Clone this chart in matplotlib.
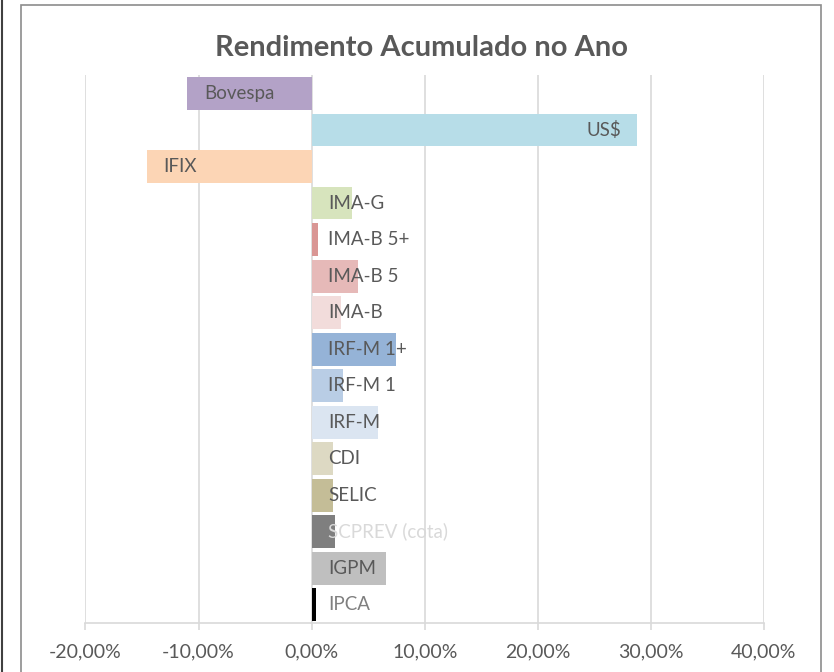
import matplotlib
matplotlib.use("Agg")
from matplotlib import pyplot as plt
from matplotlib.patches import Rectangle
from matplotlib.lines import Line2D
from matplotlib.ticker import FuncFormatter

categories = ["Bovespa", "US$", "IFIX", "IMA-G", "IMA-B 5+", "IMA-B 5", "IMA-B",
              "IRF-M 1+", "IRF-M 1", "IRF-M", "CDI", "SELIC", "SCPREV (cota)",
              "IGPM", "IPCA"]
values = [-11.0, 28.8, -14.6, 3.55, 0.55, 4.1, 2.6, 7.45, 2.75, 5.85, 1.9, 1.9,
          2.1, 6.6, 0.4]
colors = ["#b3a2c7", "#b7dde8", "#fcd5b5", "#d7e4bd", "#d99694", "#e6b9b8",
          "#f2dcdb", "#95b3d7", "#b9cde5", "#dbe5f1", "#ddd9c3", "#c4bd97",
          "#7f7f7f", "#bfbfbf", "#000000"]
label_colors = ["#595959"] * 12 + ["#d9d9d9", "#595959", "#7f7f7f"]
xticks = [-20, -10, 0, 10, 20, 30, 40]

plt.rcParams["font.family"] = ["Lato", "DejaVu Sans"]

fig = plt.figure(figsize=(8.34, 6.72), dpi=100)
ax = fig.add_axes([0.1025, 0.073, 0.8135, 0.815])

y = list(range(len(categories)))
ax.barh(y, values, height=0.9, color=colors, zorder=2)

off = 1.46
fs = 13.5
for yi, v, name, lc in zip(y, values, categories, label_colors):
    if v < 0:
        ax.text(v + off, yi, name, ha="left", va="center", fontsize=fs, color=lc, zorder=3)
    elif v > 15:
        ax.text(v - off, yi, name, ha="right", va="center", fontsize=fs, color=lc, zorder=3)
    else:
        ax.text(off, yi, name, ha="left", va="center", fontsize=fs, color=lc, zorder=3)

ax.set_xlim(-20, 40)
ax.set_ylim(len(categories) - 0.5, -0.5)
ax.set_xticks(xticks)
ax.xaxis.set_major_formatter(FuncFormatter(lambda v, p: f"{v:.2f}%".replace(".", ",")))
ax.set_yticks([])
ax.grid(axis="x", color="#d9d9d9", linewidth=1.2, zorder=0)
for s in ["top", "right", "left"]:
    ax.spines[s].set_visible(False)
ax.spines["bottom"].set_color("#d9d9d9")
ax.spines["bottom"].set_linewidth(1.2)
ax.tick_params(axis="x", colors="#d9d9d9", length=5, width=1.2, labelcolor="#595959",
               labelsize=14, pad=10)

fig.text(0.505, 0.928, "Rendimento Acumulado no Ano", ha="center", va="center",
         fontsize=21, fontweight="bold", color="#595959")

# chart frame and the neighbouring edge on the left
fig.add_artist(Rectangle((21 / 834, -0.01), 800 / 834, 1 - 5 / 672 + 0.01,
                         transform=fig.transFigure, fill=False, edgecolor="#8c8c8c",
                         linewidth=1.2))
fig.add_artist(Line2D([2 / 834, 2 / 834], [0, 1], transform=fig.transFigure,
                      color="#404040", linewidth=1.5))

fig.savefig("out.png", dpi=100)
